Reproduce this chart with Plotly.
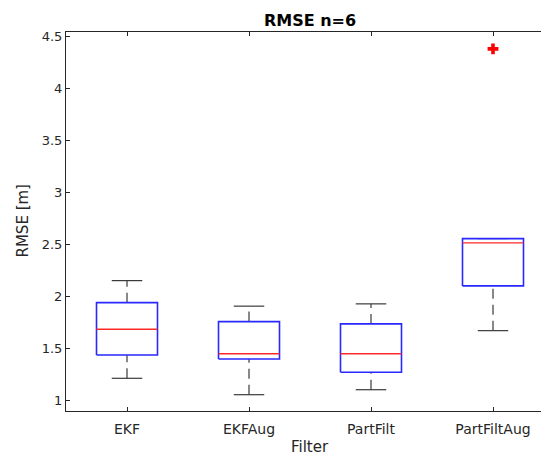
import plotly.graph_objects as go

categories = ["EKF", "EKFAug", "PartFilt", "PartFiltAug"]
q1 = [1.434, 1.395, 1.267, 2.099]
median = [1.682, 1.446, 1.446, 2.514]
q3 = [1.938, 1.755, 1.733, 2.555]
lower_whisker = [1.209, 1.051, 1.099, 1.668]
upper_whisker = [2.150, 1.904, 1.926, 2.555]
outlier_cat = ["PartFiltAug"]
outlier_val = [4.382]

yticks = [1, 1.5, 2, 2.5, 3, 3.5, 4, 4.5]

BOX_HALF = 0.25
CAP_HALF = 0.125
AX = "#262626"
FONT = "DejaVu Sans"
OFF = 8  # page body margin
W, H = 549 - OFF, 455 - OFF
ML, MR, MT, MB = 66 - OFF, 0, 32 - OFF, 44

pos = {c: i + 1 for i, c in enumerate(categories)}

bx, by, mx, my, wx, wy, cx, cy = [], [], [], [], [], [], [], []
for c, a, m, b, lo, hi in zip(categories, q1, median, q3, lower_whisker, upper_whisker):
    p = pos[c]
    bx += [p - BOX_HALF, p + BOX_HALF, p + BOX_HALF, p - BOX_HALF, p - BOX_HALF, None]
    by += [a, a, b, b, a, None]
    mx += [p - BOX_HALF, p + BOX_HALF, None]
    my += [m, m, None]
    wx += [p, p, None, p, p, None]
    wy += [b, hi, None, lo, a, None]
    cx += [p - CAP_HALF, p + CAP_HALF, None, p - CAP_HALF, p + CAP_HALF, None]
    cy += [hi, hi, None, lo, lo, None]

fig = go.Figure()
fig.add_trace(go.Scatter(x=wx, y=wy, mode="lines",
                         line=dict(color="#3a3a3a", width=1.2, dash="10px,6px"),
                         hoverinfo="skip"))
fig.add_trace(go.Scatter(x=cx, y=cy, mode="lines",
                         line=dict(color="#3a3a3a", width=1.2), hoverinfo="skip"))
fig.add_trace(go.Scatter(x=bx, y=by, mode="lines",
                         line=dict(color="rgb(40,40,255)", width=1.6), hoverinfo="skip"))
fig.add_trace(go.Scatter(x=mx, y=my, mode="lines",
                         line=dict(color="rgb(255,40,40)", width=1.4), hoverinfo="skip"))
fig.add_trace(go.Scatter(x=[pos[c] for c in outlier_cat], y=outlier_val, mode="markers",
                         marker=dict(symbol="cross", size=9, color="red", line=dict(width=0))))

PW = W - ML - MR
PH = H - MT - MB

fig.update_layout(
    width=W, height=H,
    margin=dict(l=ML, r=MR, t=MT, b=MB, autoexpand=False),
    paper_bgcolor="white", plot_bgcolor="white",
    showlegend=False,
    font=dict(family=FONT, color=AX, size=13),
    title=dict(text="<b>RMSE n=6</b>", x=(310 - OFF) / W, xanchor="center",
               y=1 - (20 - OFF) / H, yanchor="middle",
               font=dict(family=FONT, size=16, color="black")),
    annotations=[
        dict(text="Filter", xref="paper", yref="paper",
             x=(310 - 66) / PW, xanchor="center",
             y=-(447 - 411) / PH, yanchor="middle", showarrow=False,
             font=dict(size=15, color=AX)),
        dict(text="RMSE [m]", xref="paper", yref="paper",
             x=-(66 - 22) / PW, xanchor="center",
             y=0.5, yanchor="middle", textangle=-90, showarrow=False,
             font=dict(size=15, color=AX)),
    ],
)
fig.update_xaxes(
    range=[0.5, 0.5 + PW / 122], tickmode="array", tickvals=[pos[c] for c in categories],
    ticktext=categories, ticks="inside", ticklen=4, tickcolor=AX,
    showline=True, linecolor=AX, linewidth=1, mirror="ticks",
    showgrid=False, zeroline=False, automargin=False, ticklabelstandoff=5,
    tickfont=dict(size=14, color=AX),
)
fig.update_yaxes(
    range=[0.894, 4.545], tickmode="array", tickvals=yticks,
    ticktext=[f"{v:g}" for v in yticks], ticks="inside", ticklen=4, tickcolor=AX,
    showline=True, linecolor=AX, linewidth=1, mirror="ticks",
    showgrid=False, zeroline=False, automargin=False,
    tickfont=dict(size=13, color=AX),
)

fig.write_html("out.html")
